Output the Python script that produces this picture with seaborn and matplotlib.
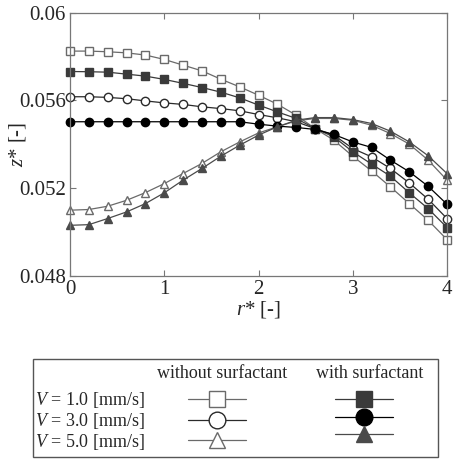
import matplotlib
matplotlib.use("Agg")
import matplotlib.pyplot as plt
from matplotlib.patches import Rectangle
import seaborn as sns
import pandas as pd

# r* positions of the points
r = [0.0, 0.2, 0.4, 0.6, 0.8, 1.0, 1.2, 1.4, 1.6, 1.8, 2.0,
     2.2, 2.4, 2.6, 2.8, 3.0, 3.2, 3.4, 3.6, 3.8, 4.0]

# z* values
v1_without = [0.05825, 0.05825, 0.05822, 0.05817, 0.05807, 0.05787, 0.05761,
              0.05735, 0.05697, 0.05662, 0.05624, 0.05583, 0.05533, 0.05472,
              0.05419, 0.05346, 0.05279, 0.05206, 0.05130, 0.05054, 0.04966]
v1_with = [0.05732, 0.05731, 0.05729, 0.05720, 0.05711, 0.05696, 0.05678,
           0.05659, 0.05638, 0.05612, 0.05579, 0.05548, 0.05518, 0.05472,
           0.05434, 0.05366, 0.05310, 0.05255, 0.05179, 0.05107, 0.05021]
v3_without = [0.05617, 0.05617, 0.05614, 0.05608, 0.05598, 0.05589, 0.05582,
              0.05571, 0.05563, 0.05553, 0.05536, 0.05521, 0.05503, 0.05472,
              0.05442, 0.05381, 0.05343, 0.05290, 0.05224, 0.05150, 0.05062]
v3_with = [0.05503, 0.05503, 0.05503, 0.05503, 0.05503, 0.05503, 0.05503,
           0.05503, 0.05503, 0.05503, 0.05492, 0.05483, 0.05477, 0.05468,
           0.05445, 0.05411, 0.05386, 0.05328, 0.05275, 0.05209, 0.05127]
v5_without = [0.05100, 0.05103, 0.05118, 0.05145, 0.05180, 0.05221, 0.05267,
              0.05313, 0.05366, 0.05411, 0.05452, 0.05480, 0.05507, 0.05518,
              0.05518, 0.05510, 0.05487, 0.05449, 0.05401, 0.05328, 0.05237]
v5_with = [0.05031, 0.05034, 0.05062, 0.05092, 0.05130, 0.05179, 0.05237,
           0.05290, 0.05346, 0.05396, 0.05442, 0.05480, 0.05510, 0.05522,
           0.05522, 0.05513, 0.05495, 0.05460, 0.05411, 0.05348, 0.05267]

row_labels = ["$V$ = 1.0 [mm/s]", "$V$ = 3.0 [mm/s]", "$V$ = 5.0 [mm/s]"]
y_ticks = [0.048, 0.052, 0.056, 0.06]
y_tick_labels = ["0.048", "0.052", "0.056", "0.06"]
x_ticks = [0, 1, 2, 3, 4]

sns.set_style("ticks")
plt.rcParams["font.family"] = ["Liberation Serif", "DejaVu Serif"]
plt.rcParams["mathtext.fontset"] = "custom"
plt.rcParams["mathtext.rm"] = "Liberation Serif"
plt.rcParams["mathtext.it"] = "Liberation Serif:italic"

series = [
    ("v1_without", v1_without, dict(marker="s", color="#6a6a6a", mfc="white", mec="#6a6a6a", ms=6)),
    ("v3_without", v3_without, dict(marker="o", color="#2a2a2a", mfc="white", mec="#2a2a2a", ms=6)),
    ("v5_without", v5_without, dict(marker="^", color="#6a6a6a", mfc="white", mec="#6a6a6a", ms=6)),
    ("v1_with", v1_with, dict(marker="s", color="#3a3a3a", mfc="#3a3a3a", mec="#3a3a3a", ms=5.5)),
    ("v3_with", v3_with, dict(marker="o", color="black", mfc="black", mec="black", ms=6)),
    ("v5_with", v5_with, dict(marker="^", color="#4a4a4a", mfc="#4a4a4a", mec="#4a4a4a", ms=5.5)),
]

df = pd.concat(
    [pd.DataFrame({"r": r, "z": vals, "case": name}) for name, vals, _ in series],
    ignore_index=True,
)

fig = plt.figure(figsize=(4.56, 4.61), dpi=100)
ax = fig.add_axes([70 / 456, 1 - 276 / 461, 377 / 456, 263.3 / 461])

handles = []
for name, _, st in series:
    sns.lineplot(
        data=df[df["case"] == name], x="r", y="z", ax=ax,
        color=st["color"], marker=st["marker"], markersize=st["ms"],
        markerfacecolor=st["mfc"], markeredgecolor=st["mec"],
        markeredgewidth=1.0, linewidth=0.9, clip_on=False,
    )
    handles.append(ax.lines[-1])

ax.set_xlim(0, 4)
ax.set_ylim(0.048, 0.06)
ax.set_xticks(x_ticks)
ax.set_yticks(y_ticks)
ax.set_yticklabels(y_tick_labels)
ax.tick_params(direction="in", top=True, right=True, labelsize=15,
               length=4, width=0.8, color="#777777", pad=3)
for s in ax.spines.values():
    s.set_color("#777777")
    s.set_linewidth(0.9)
ax.set_xlabel("$r$* [-]", fontsize=15, labelpad=0)
ax.set_ylabel("$z$* [-]", fontsize=15)
ax.yaxis.set_label_coords(-42 / 377, 0.5)

# legend table below the plot
leg = fig.legend(
    handles=handles,
    labels=row_labels + ["", "", ""],
    ncol=2, markerfirst=False, frameon=False,
    loc="upper left", bbox_to_anchor=(35 / 456, 1 - 390 / 461),
    fontsize=13, handlelength=3.2, handletextpad=2.4,
    columnspacing=2.55, labelspacing=0.05, markerscale=2.0,
    borderpad=0, borderaxespad=0,
)
fig.add_artist(Rectangle((33 / 456, 1 - 457 / 461), 405 / 456, 98 / 461,
                         transform=fig.transFigure, fill=False,
                         edgecolor="#555555", linewidth=1.0))
fig.text(222 / 456, 1 - 373 / 461, "without surfactant", ha="center",
         va="center", fontsize=13)
fig.text(370 / 456, 1 - 373 / 461, "with surfactant", ha="center",
         va="center", fontsize=13)

fig.savefig("out.png", dpi=100)
